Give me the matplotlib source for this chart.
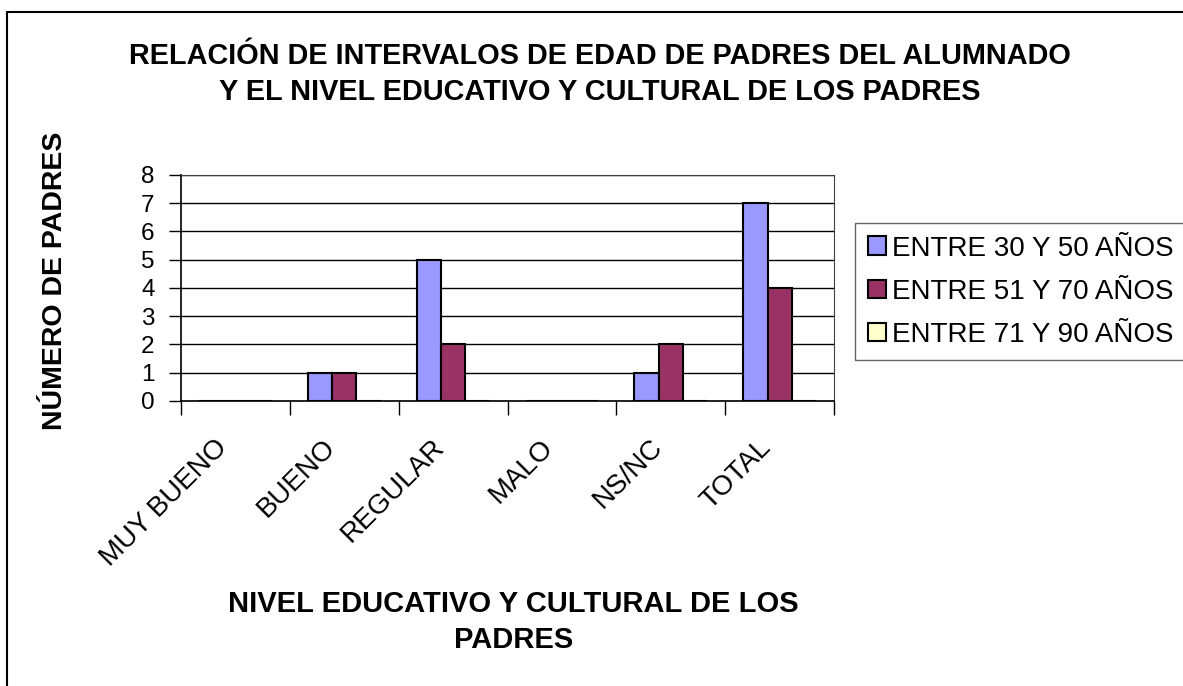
import matplotlib.pyplot as plt
import matplotlib.patches as mpatches
import matplotlib.transforms as mtransforms
import numpy as np

plt.rcParams['font.family'] = ['Liberation Sans', 'DejaVu Sans']

# niveles educativos (eje x)
niveles = ['MUY BUENO', 'BUENO', 'REGULAR', 'MALO', 'NS/NC', 'TOTAL']

# número de padres por intervalo de edad
series = ['ENTRE 30 Y 50 AÑOS', 'ENTRE 51 Y 70 AÑOS', 'ENTRE 71 Y 90 AÑOS']
entre_30_50 = [0, 1, 5, 0, 1, 7]
entre_51_70 = [0, 1, 2, 0, 2, 4]
entre_71_90 = [0, 0, 0, 0, 0, 0]

colores = ['#9999FF', '#993366', '#FFFFCC']

fig = plt.figure(figsize=(11.83, 6.86), dpi=100)
ax = fig.add_axes([0.153, 0.4155, 0.552, 0.3295])

x = np.arange(len(niveles))
ancho = 1 / 4.5
for i, (nombre, valores) in enumerate(zip(series, [entre_30_50, entre_51_70, entre_71_90])):
    ax.bar(x + (i - 1) * ancho, valores, width=ancho, color=colores[i],
           edgecolor='black', linewidth=1.5, label=nombre, zorder=3)

ax.set_xlim(-0.5, len(niveles) - 0.5)
ax.set_ylim(0, 8)
ax.set_yticks(range(0, 9))
ax.grid(axis='y', color='black', linewidth=1, zorder=0)

# etiquetas en el centro, marcas entre categorías
ax.set_xticks(x)
ax.set_xticklabels(niveles, rotation=45, ha='right', va='baseline',
                   rotation_mode='anchor')
ax.set_xticks(np.arange(-0.5, len(niveles)), minor=True)
ax.tick_params(axis='x', which='major', length=0, labelsize=20, pad=34)
ax.tick_params(axis='x', which='minor', length=10, width=1)
ax.tick_params(axis='y', length=9, width=1, labelsize=17.5, pad=10)
desplaza = mtransforms.ScaledTranslation(-0.075, 0, fig.dpi_scale_trans)
for etiqueta in ax.get_xticklabels():
    etiqueta.set_transform(etiqueta.get_transform() + desplaza)

for lado in ['top', 'right']:
    ax.spines[lado].set_color('#404040')
for lado in ['left', 'bottom']:
    ax.spines[lado].set_color('black')
    ax.spines[lado].set_linewidth(1.2)

fig.text(0.507, 0.892, 'RELACIÓN DE INTERVALOS DE EDAD DE PADRES DEL ALUMNADO\n'
         'Y EL NIVEL EDUCATIVO Y CULTURAL DE LOS PADRES',
         ha='center', va='center', fontsize=20.8, fontweight='bold', linespacing=1.4)
fig.text(0.0465, 0.59, 'NÚMERO DE PADRES', rotation=90, ha='center', va='center',
         fontsize=20.5, fontweight='bold')
fig.text(0.434, 0.0933, 'NIVEL EDUCATIVO Y CULTURAL DE LOS\nPADRES',
         ha='center', va='center', fontsize=21, fontweight='bold', linespacing=1.4)

leg = fig.legend(loc='upper left', bbox_to_anchor=(855 / 1183, 1 - 223 / 686),
                 fontsize=20, frameon=True, fancybox=False, handlelength=0.65,
                 handleheight=0.65, handletextpad=0.24, labelspacing=0.62,
                 borderpad=0.45, borderaxespad=0)
leg.get_frame().set_edgecolor('#404040')
leg.get_frame().set_linewidth(1)

# borde exterior del gráfico
fig.patches.append(mpatches.Rectangle((7 / 1183, -0.1), 1.2, 1.1 - 12 / 686,
                                      transform=fig.transFigure, fill=False,
                                      edgecolor='black', linewidth=1.5))

fig.savefig('out.png', dpi=100)
